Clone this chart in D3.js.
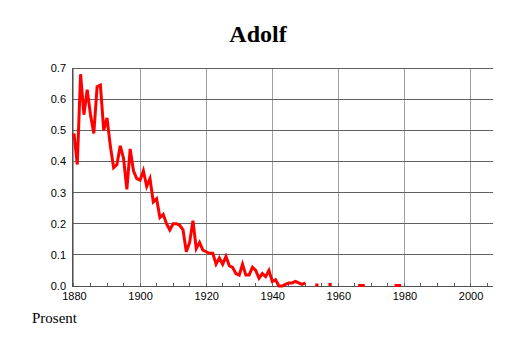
<!DOCTYPE html>
<html>
<head>
<meta charset="utf-8">
<script src="https://cdn.jsdelivr.net/npm/d3@7"></script>
<style>
  body { margin: 0; background: #fff; }
  svg text { font-family: "Liberation Sans", Arial, sans-serif; }
  svg text.serif { font-family: "Liberation Serif", "Times New Roman", serif; }
</style>
</head>
<body>
<svg id="chart" width="514" height="343"></svg>
<script>
const title = "Adolf";
const yLabel = "Prosent";
const years = d3.range(1880, 1980);
// percent per year, null where no data
const values = [
  0.49, 0.39, 0.68, 0.55, 0.63, 0.55, 0.49, 0.64, 0.645, 0.50,
  0.54, 0.45, 0.38, 0.39, 0.45, 0.41, 0.31, 0.44, 0.37, 0.345,
  0.34, 0.37, 0.32, 0.345, 0.27, 0.28, 0.22, 0.23, 0.20, 0.18,
  0.20, 0.20, 0.195, 0.18, 0.11, 0.14, 0.21, 0.12, 0.14, 0.115,
  0.11, 0.105, 0.105, 0.07, 0.09, 0.07, 0.095, 0.065, 0.06, 0.04,
  0.035, 0.07, 0.035, 0.035, 0.06, 0.05, 0.025, 0.04, 0.03, 0.05,
  0.015, 0.02, 0.0, 0.0, 0.005, 0.01, 0.01, 0.015, 0.01, 0.005,
  0.01, null, null, 0.003, 0.003, null, null, 0.005, 0.005, null,
  null, null, null, null, null, null, 0.002, 0.002, 0.002, null,
  null, null, null, null, null, null, null, 0.002, 0.002, 0.002
];
const xTicks = [1880, 1900, 1920, 1940, 1960, 1980, 2000];
const xMinorTicks = d3.range(1880, 2010, 5);
const yTicks = [0, 0.1, 0.2, 0.3, 0.4, 0.5, 0.6, 0.7];

const svg = d3.select("#chart");
const plotLeft = 72, plotRight = 493, plotTop = 68, plotBottom = 286;

const x = d3.scaleLinear().domain([1879.4, 2006.8]).range([plotLeft, plotRight]);
const y = d3.scaleLinear().domain([0, 0.7]).range([plotBottom, plotTop]);

const data = years.map((yr, i) => ({ year: yr, value: values[i] }));

// vertical grid
svg.append("g").selectAll("line").data(xTicks).join("line")
  .attr("x1", d => x(d)).attr("x2", d => x(d))
  .attr("y1", plotTop).attr("y2", plotBottom)
  .attr("stroke", "#a0a0a0").attr("stroke-width", 1).attr("shape-rendering", "crispEdges");

// horizontal grid
svg.append("g").selectAll("line").data(yTicks.slice(1)).join("line")
  .attr("x1", plotLeft).attr("x2", plotRight)
  .attr("y1", d => y(d)).attr("y2", d => y(d))
  .attr("stroke", "#606060").attr("stroke-width", 1).attr("shape-rendering", "crispEdges");

// axes
const xAxis = svg.append("g").attr("transform", `translate(0,${plotBottom})`)
  .call(d3.axisBottom(x).tickValues(xTicks).tickFormat(d3.format("d")).tickSize(0).tickPadding(6));
xAxis.select(".domain").remove();
xAxis.selectAll("text").attr("font-size", 11).attr("fill", "#000");

svg.append("g").selectAll("line").data(xMinorTicks).join("line")
  .attr("x1", d => x(d)).attr("x2", d => x(d))
  .attr("y1", plotBottom).attr("y2", plotBottom - 3)
  .attr("stroke", "#606060").attr("shape-rendering", "crispEdges");

const yAxis = svg.append("g").attr("transform", `translate(${plotLeft},0)`)
  .call(d3.axisLeft(y).tickValues(yTicks).tickFormat(d3.format(".1f")).tickSize(0).tickPadding(6));
yAxis.select(".domain").remove();
yAxis.selectAll("text").attr("font-size", 11).attr("fill", "#000");

svg.append("line")
  .attr("x1", plotLeft).attr("x2", plotRight).attr("y1", plotBottom).attr("y2", plotBottom)
  .attr("stroke", "#505050").attr("shape-rendering", "crispEdges");
svg.append("line")
  .attr("x1", plotLeft).attr("x2", plotLeft).attr("y1", plotTop).attr("y2", plotBottom)
  .attr("stroke", "#505050").attr("shape-rendering", "crispEdges");

// data line
svg.append("path")
  .datum(data)
  .attr("fill", "none")
  .attr("stroke", "#ff0000")
  .attr("stroke-width", 3)
  .attr("stroke-linejoin", "miter")
  .attr("d", d3.line().defined(d => d.value !== null)
    .x(d => x(d.year)).y(d => y(d.value)));

// title
svg.append("text")
  .attr("class", "serif")
  .attr("x", 258).attr("y", 42)
  .attr("text-anchor", "middle")
  .attr("font-weight", "bold").attr("font-size", 24)
  .text(title);

svg.append("text")
  .attr("class", "serif")
  .attr("x", 32).attr("y", 323)
  .attr("font-size", 15)
  .text(yLabel);
</script>
</body>
</html>
